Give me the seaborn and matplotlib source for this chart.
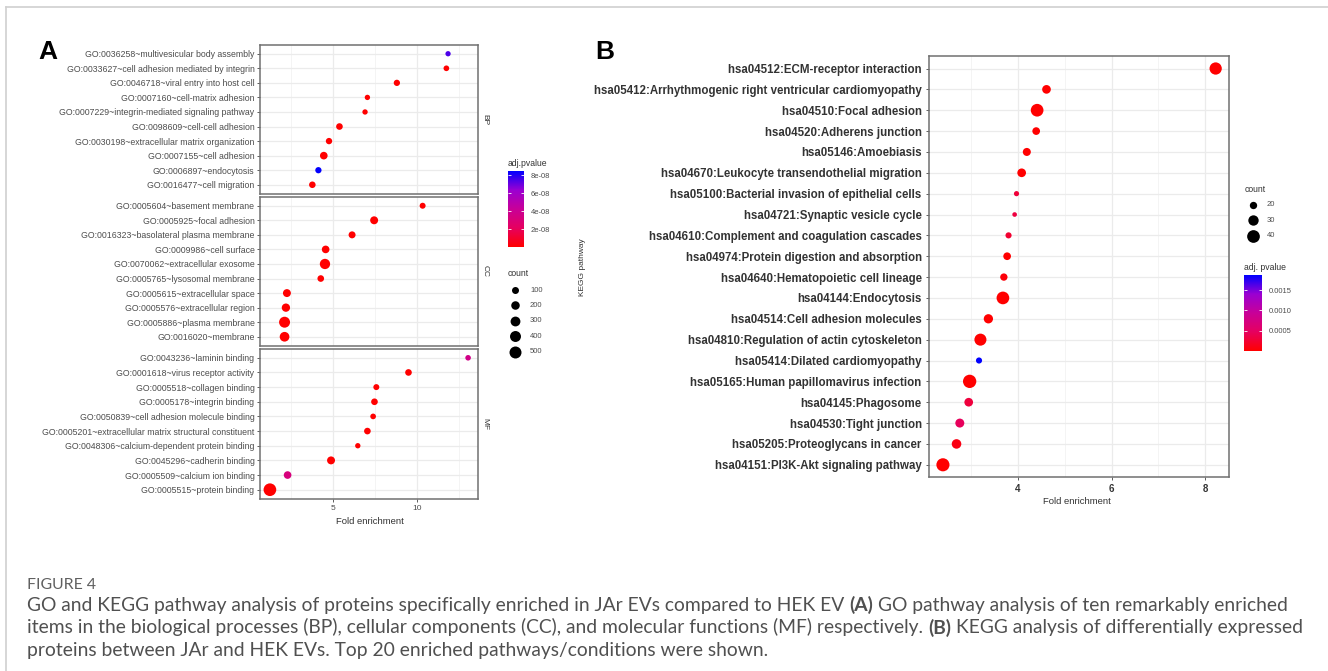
import numpy as np
import pandas as pd
import matplotlib
matplotlib.use("Agg")
import matplotlib.pyplot as plt
import seaborn as sns
from matplotlib.colors import LinearSegmentedColormap, Normalize
from matplotlib.ticker import MultipleLocator
from matplotlib.cm import ScalarMappable

# ---------------- Data ----------------
bp_terms = ["GO:0036258~multivesicular body assembly",
            "GO:0033627~cell adhesion mediated by integrin",
            "GO:0046718~viral entry into host cell",
            "GO:0007160~cell-matrix adhesion",
            "GO:0007229~integrin-mediated signaling pathway",
            "GO:0098609~cell-cell adhesion",
            "GO:0030198~extracellular matrix organization",
            "GO:0007155~cell adhesion",
            "GO:0006897~endocytosis",
            "GO:0016477~cell migration"]
bp_fold = [11.83, 11.73, 8.79, 7.04, 6.90, 5.38, 4.76, 4.45, 4.13, 3.77]
bp_count = [12, 30, 60, 15, 15, 80, 65, 140, 60, 75]
bp_padj = [7.4e-8, 1e-10, 1e-10, 1e-10, 1e-10, 1e-10, 1e-10, 1e-10, 8.4e-8, 1e-10]

cc_terms = ["GO:0005604~basement membrane",
            "GO:0005925~focal adhesion",
            "GO:0016323~basolateral plasma membrane",
            "GO:0009986~cell surface",
            "GO:0070062~extracellular exosome",
            "GO:0005765~lysosomal membrane",
            "GO:0005615~extracellular space",
            "GO:0005576~extracellular region",
            "GO:0005886~plasma membrane",
            "GO:0016020~membrane"]
cc_fold = [10.32, 7.44, 6.13, 4.56, 4.52, 4.27, 2.26, 2.20, 2.12, 2.12]
cc_count = [45, 160, 100, 140, 340, 80, 160, 185, 400, 290]
cc_padj = [1e-10] * 10

mf_terms = ["GO:0043236~laminin binding",
            "GO:0001618~virus receptor activity",
            "GO:0005518~collagen binding",
            "GO:0005178~integrin binding",
            "GO:0050839~cell adhesion molecule binding",
            "GO:0005201~extracellular matrix structural constituent",
            "GO:0048306~calcium-dependent protein binding",
            "GO:0045296~cadherin binding",
            "GO:0005509~calcium ion binding",
            "GO:0005515~protein binding"]
mf_fold = [13.02, 9.48, 7.57, 7.46, 7.38, 7.04, 6.47, 4.88, 2.30, 1.25]
mf_count = [25, 80, 45, 80, 30, 80, 15, 160, 140, 570]
mf_padj = [3.6e-8, 1e-10, 1e-10, 1e-10, 1e-10, 1e-10, 1e-10, 1e-10, 3.2e-8, 1e-10]

a_facets = ["BP", "CC", "MF"]
a_count_legend = [100, 200, 300, 400, 500]
a_padj_ticks = [2e-8, 4e-8, 6e-8, 8e-8]
a_padj_labels = ["2e-08", "4e-08", "6e-08", "8e-08"]

kegg_terms = ["hsa04512:ECM-receptor interaction",
              "hsa05412:Arrhythmogenic right ventricular cardiomyopathy",
              "hsa04510:Focal adhesion",
              "hsa04520:Adherens junction",
              "hsa05146:Amoebiasis",
              "hsa04670:Leukocyte transendothelial migration",
              "hsa05100:Bacterial invasion of epithelial cells",
              "hsa04721:Synaptic vesicle cycle",
              "hsa04610:Complement and coagulation cascades",
              "hsa04974:Protein digestion and absorption",
              "hsa04640:Hematopoietic cell lineage",
              "hsa04144:Endocytosis",
              "hsa04514:Cell adhesion molecules",
              "hsa04810:Regulation of actin cytoskeleton",
              "hsa05414:Dilated cardiomyopathy",
              "hsa05165:Human papillomavirus infection",
              "hsa04145:Phagosome",
              "hsa04530:Tight junction",
              "hsa05205:Proteoglycans in cancer",
              "hsa04151:PI3K-Akt signaling pathway"]
kegg_fold = [8.22, 4.61, 4.41, 4.39, 4.19, 4.08, 3.97, 3.93, 3.80, 3.77,
             3.70, 3.68, 3.37, 3.20, 3.17, 2.97, 2.95, 2.76, 2.69, 2.40]
kegg_count = [38, 24, 40, 21, 22, 24, 15, 14, 17, 21,
              20, 40, 26, 37, 17, 43, 24, 25, 27, 42]
kegg_padj = [1e-6, 1e-6, 1e-6, 1e-6, 1e-6, 1e-6, 2.8e-4, 3.2e-4, 2.4e-4, 1e-6,
             5e-5, 1e-6, 1e-6, 1e-6, 1.87e-3, 1e-6, 3.0e-4, 4.5e-4, 1e-4, 1e-6]
b_count_legend = [20, 30, 40]
b_padj_ticks = [0.0005, 0.0010, 0.0015]
b_padj_labels = ["0.0005", "0.0010", "0.0015"]

caption_title = "FIGURE 4"
caption_lines = [
    [("GO and KEGG pathway analysis of proteins specifically enriched in JAr EVs compared to HEK EV", False),
     ("(A)", True), ("GO pathway analysis of ten remarkably enriched", False)],
    [("items in the biological processes (BP), cellular components (CC), and molecular functions (MF) respectively.", False),
     ("(B)", True), ("KEGG analysis of differentially expressed", False)],
    [("proteins between JAr and HEK EVs. Top 20 enriched pathways/conditions were shown.", False)],
]

# ---------------- Setup ----------------
W, H = 1328, 671
plt.rcParams['font.family'] = ['Liberation Sans', 'DejaVu Sans']
fig = plt.figure(figsize=(W / 100, H / 100), dpi=100)
fig.patch.set_facecolor('white')

def px_axes(l, t, r, b):
    return fig.add_axes([l / W, 1 - b / H, (r - l) / W, (b - t) / H])

def fx(x):
    return x / W

def fy(y):
    return 1 - y / H

cmap = LinearSegmentedColormap.from_list(
    "rb", ["#FF0000", "#E6005F", "#C80098", "#9A00D2", "#0000FF"])

GRID = '#ebebeb'
BORDER = '#707070'
TXT = '#4d4d4d'

def style(ax, major, minor):
    ax.set_facecolor('white')
    for s in ax.spines.values():
        s.set_color(BORDER)
        s.set_linewidth(1.1)
    ax.xaxis.set_major_locator(MultipleLocator(major))
    ax.xaxis.set_minor_locator(MultipleLocator(minor))
    ax.grid(which='major', color=GRID, lw=0.9)
    ax.grid(which='minor', axis='x', color='#f3f3f3', lw=0.6)
    ax.grid(which='minor', axis='y', visible=False)
    ax.set_axisbelow(True)
    ax.tick_params(which='minor', length=0)
    ax.tick_params(which='major', length=2.5, width=0.6, color='#444444')
    ax.set_xlabel("")
    ax.set_ylabel("")

def expand(vals, frac=0.05):
    lo, hi = min(vals), max(vals)
    d = (hi - lo) * frac
    return lo - d, hi + d

# ---------------- Panel A ----------------
a_sizes = (13.0, 86.9)
a_size_norm = (0, 600)
a_hue_norm = (0, 8.45e-8)
a_xlim = expand(bp_fold + cc_fold + mf_fold)

facet_data = [
    (bp_terms, bp_fold, bp_count, bp_padj, 45, 193.5),
    (cc_terms, cc_fold, cc_count, cc_padj, 197, 345.5),
    (mf_terms, mf_fold, mf_count, mf_padj, 349, 498.5),
]
for i, (terms, fold, cnt, padj, top, bot) in enumerate(facet_data):
    ax = px_axes(260, top, 478, bot)
    df = pd.DataFrame({"term": terms, "fold": fold, "count": cnt, "padj": padj})
    sns.scatterplot(data=df, x="fold", y="term", size="count", hue="padj",
                    sizes=a_sizes, size_norm=a_size_norm,
                    palette=cmap, hue_norm=a_hue_norm,
                    linewidth=0, legend=False, ax=ax, zorder=3)
    style(ax, 5, 2.5)
    ax.set_xlim(*a_xlim)
    ax.set_ylim(len(terms) - 1 + 0.6, -0.6)
    ax.tick_params(axis='y', labelsize=6.35, labelcolor=TXT, pad=1.5)
    if i < 2:
        ax.tick_params(axis='x', length=0, labelbottom=False)
    else:
        ax.tick_params(axis='x', labelsize=6, labelcolor=TXT, pad=2)
    fig.text(fx(485), fy((top + bot) / 2), a_facets[i], rotation=270,
             ha='center', va='center', fontsize=6, color='#333333')

fig.text(fx(370), fy(522), "Fold enrichment", ha='center', va='center',
         fontsize=6.8, color='#333333')
fig.text(fx(48), fy(52), "A", ha='center', va='center', fontsize=19,
         fontweight='bold', color='black')

# A colorbar
cax = px_axes(508, 171, 524, 247)
cb = fig.colorbar(ScalarMappable(norm=Normalize(*a_hue_norm), cmap=cmap), cax=cax)
cb.outline.set_visible(False)
cb.set_ticks(a_padj_ticks)
cb.set_ticklabels(a_padj_labels)
cax.yaxis.set_ticks_position('both')
cax.tick_params(direction='in', color='white', length=2.5, width=0.6,
                labelsize=5.5, labelcolor=TXT, pad=5)
cax.tick_params(labelleft=False, labelright=True)
fig.text(fx(508), fy(163), "adj.pvalue", ha='left', va='center', fontsize=6.2,
         color='#333333')

# A size legend
lax = px_axes(500, 265, 560, 360)
lax.set_xlim(500, 560)
lax.set_ylim(360, 265)
lax.axis('off')
fig.text(fx(508), fy(274), "count", ha='left', va='center', fontsize=6.2,
         color='#333333')
for k, c in enumerate(a_count_legend):
    yy = 290 + k * 15.4
    s = a_sizes[0] + (a_sizes[1] - a_sizes[0]) * (c - a_size_norm[0]) / (a_size_norm[1] - a_size_norm[0])
    lax.scatter([515], [yy], s=s, color='black', linewidth=0)
    fig.text(fx(530), fy(yy), str(c), ha='left', va='center', fontsize=5.5,
             color=TXT)

# ---------------- Panel B ----------------
b_sizes = (0.0, 97.5)
b_size_norm = (10, 45)
b_hue_norm = (0, 0.00187)

axb = px_axes(929.3, 56, 1229.3, 477.3)
dfb = pd.DataFrame({"term": kegg_terms, "fold": kegg_fold,
                    "count": kegg_count, "padj": kegg_padj})
sns.scatterplot(data=dfb, x="fold", y="term", size="count", hue="padj",
                sizes=b_sizes, size_norm=b_size_norm,
                palette=cmap, hue_norm=b_hue_norm,
                linewidth=0, legend=False, ax=axb, zorder=3)
style(axb, 2, 1)
axb.set_xlim(*expand(kegg_fold))
axb.set_ylim(len(kegg_terms) - 1 + 0.6, -0.6)
axb.tick_params(axis='y', labelsize=8.3, labelcolor='#333333', pad=3)
for t in axb.get_yticklabels():
    t.set_fontweight('bold')
axb.tick_params(axis='x', labelsize=7, labelcolor='#333333', pad=2)
for t in axb.get_xticklabels():
    t.set_fontweight('bold')
fig.text(fx(1077), fy(501), "Fold enrichment", ha='center', va='center',
         fontsize=6.8, color='#333333')
fig.text(fx(582), fy(267), "KEGG pathway", rotation=90, ha='center',
         va='center', fontsize=6, color='#333333')
fig.text(fx(605), fy(52), "B", ha='center', va='center', fontsize=19,
         fontweight='bold', color='black')

# B size legend
lbx = px_axes(1240, 180, 1300, 245)
lbx.set_xlim(1240, 1300)
lbx.set_ylim(245, 180)
lbx.axis('off')
fig.text(fx(1245), fy(189), "count", ha='left', va='center', fontsize=6.2,
         color='#333333')
for k, c in enumerate(b_count_legend):
    yy = 205 + k * 15.3
    s = b_sizes[0] + (b_sizes[1] - b_sizes[0]) * (c - b_size_norm[0]) / (b_size_norm[1] - b_size_norm[0])
    lbx.scatter([1253], [yy], s=s, color='black', linewidth=0)
    fig.text(fx(1267), fy(yy), str(c), ha='left', va='center', fontsize=5.5,
             color=TXT)

# B colorbar
cbx = px_axes(1244, 275, 1262, 351)
cb2 = fig.colorbar(ScalarMappable(norm=Normalize(*b_hue_norm), cmap=cmap), cax=cbx)
cb2.outline.set_visible(False)
cb2.set_ticks(b_padj_ticks)
cb2.set_ticklabels(b_padj_labels)
cbx.yaxis.set_ticks_position('both')
cbx.tick_params(direction='in', color='white', length=2.5, width=0.6,
                labelsize=5.5, labelcolor=TXT, pad=5)
cbx.tick_params(labelleft=False, labelright=True)
fig.text(fx(1244), fy(267), "adj. pvalue", ha='left', va='center', fontsize=6.2,
         color='#333333')

# ---------------- Frame lines ----------------
fig.add_artist(plt.Line2D([fx(6), fx(1328)], [fy(7), fy(7)], color='#d0d0d0', lw=1.2))
fig.add_artist(plt.Line2D([fx(6), fx(6)], [fy(7), fy(671)], color='#d0d0d0', lw=1.2))

# ---------------- Caption ----------------
CAP_FAMILY = ['Lato', 'DejaVu Sans']
CAP_COLOR = '#505050'
renderer = fig.canvas.get_renderer()

def text_w(s, size, bold=False):
    t = fig.text(0, 0, s, fontsize=size, family=CAP_FAMILY,
                 fontweight='bold' if bold else 'normal')
    w = t.get_window_extent(renderer).width
    t.remove()
    return w

def line_width(parts, size):
    sp = text_w("a a", size) - text_w("aa", size)
    return sum(text_w(p, size, b) for p, b in parts) + sp * (len(parts) - 1)

base = 12.0
target = 1290 - 27
cap_size = base * target / line_width(caption_lines[0], base)

def rich_line(x, y, parts, size):
    sp = text_w("a a", size) - text_w("aa", size)
    cx = x
    for p, b in parts:
        t = fig.text(fx(cx), fy(y), p, fontsize=size, family=CAP_FAMILY,
                     fontweight='bold' if b else 'normal', color=CAP_COLOR,
                     ha='left', va='baseline')
        cx += t.get_window_extent(renderer).width + sp

fig.text(fx(27), fy(589), caption_title, fontsize=cap_size * 0.82,
         family=CAP_FAMILY, color='#606060', ha='left', va='baseline')
for k, parts in enumerate(caption_lines):
    rich_line(27, 611 + k * 22.5, parts, cap_size)

fig.savefig("out.png", dpi=100, facecolor='white')
